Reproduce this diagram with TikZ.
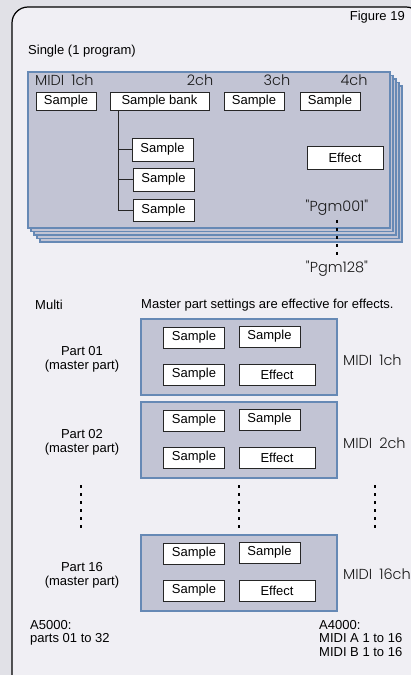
\documentclass[tikz,border=0pt]{standalone}
\usepackage{fontspec}
\setmainfont{Liberation Sans}
\newfontfamily\thinfont{Poppins Light}
\definecolor{outerbg}{HTML}{E1E1E7}
\definecolor{innerbg}{HTML}{F0EFF4}
\definecolor{panelfill}{HTML}{C2C4D4}
\definecolor{panelblue}{HTML}{6689B5}
\begin{document}
\begin{tikzpicture}[x=1pt,y=-1pt,
  font=\fontsize{13}{14}\selectfont,
  box/.style={draw=black!85, fill=white, line width=0.9pt, inner sep=0pt, minimum height=21pt, minimum width=61pt},
  panel/.style={draw=panelblue, fill=panelfill, line width=1.1pt},
  thin/.style={font=\thinfont\fontsize{14.5}{16}\selectfont, text=black!90, inner sep=0pt},
  lbl/.style={inner sep=0pt},
  dotline/.style={line width=2.6pt, dash pattern=on 2.6pt off 5.4pt}]
\fill[outerbg] (0,0) rectangle (411,675);
\useasboundingbox (0,0) rectangle (411,675);
\draw[fill=innerbg, line width=1.2pt, rounded corners=16pt] (12,7) rectangle (422,692);

% titles
\node[lbl, anchor=east] (fig) at (405,17) {Figure 19};
\node[lbl, anchor=west] (single) at (28,51) {Single (1 program)};

% stacked panels
\foreach \k in {4,3,2,1} {
  \draw[panel] (28+3*\k,72+3.5*\k) rectangle (390+3*\k,228+3.5*\k);
}
\draw[panel] (28,72) rectangle (390,228);

\node[thin, anchor=west] (midi) at (35,80) {MIDI\hspace{7pt}1ch};
\node[thin] (ch2) at (200,80) {2ch};
\node[thin] (ch3) at (277,80) {3ch};
\node[thin] (ch4) at (354,80) {4ch};

\node[box, minimum height=18pt, minimum width=60pt] (s1) at (66,101.5) {Sample};
\node[box, minimum height=18pt, minimum width=99pt] (bank) at (159.5,101.5) {Sample bank};
\node[box, minimum height=18pt, minimum width=60pt] (s3) at (254,101.5) {Sample};
\node[box, minimum height=18pt, minimum width=60pt] (s4) at (330,101.5) {Sample};

\node[box, minimum height=23pt] (ba) at (162.5,149.5) {Sample};
\node[box, minimum height=23pt] (bb) at (163.5,179.5) {Sample};
\node[box, minimum height=22pt] (bc) at (163.5,210) {Sample};
\node[box, minimum height=23pt, minimum width=76pt] (eff) at (345,157.5) {Effect};

\coordinate (tr) at (118,110);
\draw[line width=0.9pt, black!85] (tr) |- (bc.west);
\draw[line width=0.9pt, black!85] (tr |- ba.west) -- (ba.west);
\draw[line width=0.9pt, black!85] (tr |- bb.west) -- (bb.west);

\node[thin] (p1) at (337,208) {"Pgm001"};
\node[thin] (p128) at (337,269) {"Pgm128"};
\draw[dotline] ([yshift=-4pt]p1.south) -- ([yshift=3pt]p128.north);

% Multi
\node[lbl, anchor=west] (multi) at (35,305) {Multi};
\node[lbl, anchor=west] (master) at (141,305) {Master part settings are effective for effects.};

\foreach \T/\name/\part/\ch/\dy in {319/a/01/1/41, 402/b/02/2/41, 535/c/16/16/39} {
  \draw[panel] (141,\T) rectangle (337,\T+76);
  \node[box] (\name s1) at (194,\T+18.5) {Sample};
  \node[box] (\name s2) at (269.5,\T+17.5) {Sample};
  \node[box] (\name s3) at (194,\T+55.5) {Sample};
  \node[box, minimum width=76pt] (\name ef) at (277,\T+55.5) {Effect};
  \node[lbl, align=center] (\name part) at (82,\T+40) {Part \part\\(master part)};
  \node[thin, anchor=west] (\name midi) at (343,\T+\dy) {MIDI\hspace{7pt}\ch ch};
}

\coordinate (d1a) at (81,485); \coordinate (d1b) at (81,528);
\coordinate (d2a) at (239,485); \coordinate (d2b) at (239,528);
\coordinate (d3a) at (375,485); \coordinate (d3b) at (375,528);
\draw[dotline] (d1a) -- (d1b);
\draw[dotline] (d2a) -- (d2b);
\draw[dotline] (d3a) -- (d3b);

\node[lbl, anchor=north west, align=left, font=\fontsize{13}{13.5}\selectfont] (a5) at (30,620) {A5000:\\parts 01 to 32};
\node[lbl, anchor=north west, align=left, font=\fontsize{13}{13.5}\selectfont] (a4) at (319,620) {A4000:\\MIDI A 1 to 16\\MIDI B 1 to 16};
\end{tikzpicture}
\end{document}
